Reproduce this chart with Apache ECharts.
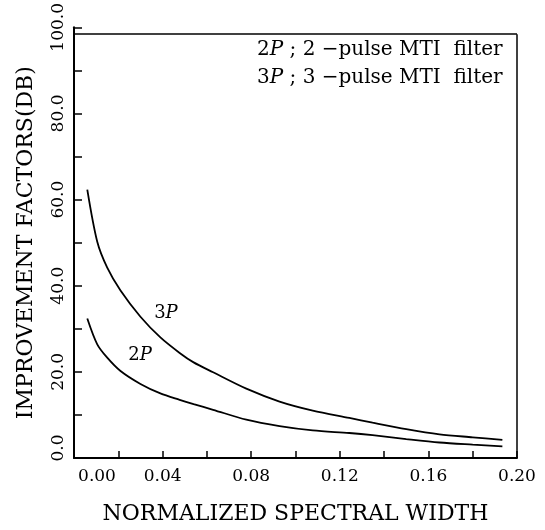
<!DOCTYPE html>
<html>
<head>
<meta charset="utf-8">
<script src="https://cdn.jsdelivr.net/npm/echarts@6/dist/echarts.min.js"></script>
<style>html,body{margin:0;padding:0;background:#fff}#c{width:545px;height:530px}</style>
</head>
<body>
<div id="c"></div>
<script>
// Normalized spectral width (x values)
const widths = [0.006, 0.0105, 0.015, 0.021, 0.030, 0.039, 0.0477, 0.054, 0.0628, 0.0778, 0.0928, 0.1078, 0.1243, 0.1348, 0.15, 0.165, 0.18, 0.1934];
// Improvement factors (dB)
const if3P = [62.3, 50.2, 44.2, 38.9, 32.8, 28.0, 24.4, 22.2, 19.9, 16.1, 13.1, 11.0, 9.3, 8.2, 6.7, 5.5, 4.8, 4.2];
const if2P = [32.4, 26.4, 23.3, 20.2, 17.2, 15.0, 13.5, 12.5, 11.2, 8.9, 7.4, 6.4, 5.8, 5.3, 4.4, 3.6, 3.1, 2.7];
// curve labels: [name, x, y]
const curveLabels = [['3P', 0.0415, 33.6], ['2P', 0.0298, 23.9]];
const legendLines = [['2', 'P', ' ; 2 \u2212pulse MTI  filter'], ['3', 'P', ' ; 3 \u2212pulse MTI  filter']];
const xName = 'NORMALIZED SPECTRAL WIDTH';
const yName = 'IMPROVEMENT FACTORS(DB)';
const frameTop = 98.4;

const FONT = 'DejaVu Serif';
const pair = (xs, ys) => xs.map((x, i) => [x, ys[i]]);

const chart = echarts.init(document.getElementById('c'));
const lineStyle = { color: '#000', width: 1.8 };
chart.setOption({
  animation: false,
  backgroundColor: '#fff',
  title: {
    left: 252, top: 31,
    text: legendLines.map(l => `{n|${l[0]}}{i|${l[1]}}{n|${l[2]}}`).join('\n'),
    textStyle: {
      fontWeight: 'normal',
      rich: {
        n: { fontFamily: FONT, fontSize: 20, fontWeight: 'normal', color: '#000', lineHeight: 28 },
        i: { fontFamily: FONT, fontSize: 20, fontWeight: 'normal', fontStyle: 'italic', color: '#000', lineHeight: 28 }
      }
    }
  },
  grid: { left: 74, right: 28, top: 17, bottom: 69, show: false },
  xAxis: {
    type: 'value', min: 0, max: 0.2, interval: 0.02,
    name: xName, nameLocation: 'middle', nameGap: 45,
    nameTextStyle: { fontFamily: FONT, fontSize: 22, color: '#000' },
    axisLine: { lineStyle: { color: '#000', width: 2 } },
    axisTick: { inside: true, length: 7, lineStyle: { color: '#000', width: 1.5 } },
    axisLabel: {
      margin: 10, color: '#000', fontFamily: FONT, fontSize: 17,
      showMinLabel: true, showMaxLabel: true,
      formatter: v => {
        const k = Math.round(v * 100);
        if (k % 4 !== 0) return '';
        if (k === 0) return '{z|0.00}';
        return (k / 100).toFixed(2);
      },
      rich: { z: { fontFamily: FONT, fontSize: 17, color: '#000', padding: [0, 0, 0, 46] } }
    },
    splitLine: { show: false }
  },
  yAxis: {
    type: 'value', min: 0, max: 100, interval: 10,
    name: yName, nameLocation: 'middle', nameGap: 37, nameRotate: 90,
    nameTextStyle: { fontFamily: FONT, fontSize: 22, color: '#000' },
    axisLine: { show: true, lineStyle: { color: '#000', width: 2 } },
    axisTick: { inside: true, length: 8, lineStyle: { color: '#000', width: 1.5 } },
    axisLabel: {
      rotate: 90, margin: 7, color: '#000', fontFamily: FONT, fontSize: 17,
      showMinLabel: true, showMaxLabel: true,
      formatter: v => {
        if (Math.round(v) % 20 !== 0) return '';
        if (v === 0) return '{z|0.0}';
        return v.toFixed(1);
      },
      rich: { z: { fontFamily: FONT, fontSize: 17, color: '#000', padding: [0, 0, 0, 20] } }
    },
    splitLine: { show: false }
  },
  series: [
    {
      name: '3P', type: 'line', data: pair(widths, if3P), showSymbol: false,
      smooth: 0.3, lineStyle, silent: true,
      markLine: {
        silent: true, symbol: 'none', label: { show: false },
        lineStyle: { color: '#000', width: 1.5, type: 'solid' },
        data: [
          [{ coord: [0, frameTop] }, { coord: [0.2, frameTop] }],
          [{ coord: [0.2, 0] }, { coord: [0.2, frameTop] }]
        ]
      },
      markPoint: {
        symbol: 'circle', symbolSize: 0, silent: true,
        label: {
          show: true, position: 'inside', color: '#000',
          rich: {
            n: { fontFamily: FONT, fontSize: 18, color: '#000' },
            i: { fontFamily: FONT, fontSize: 18, fontStyle: 'italic', color: '#000' }
          },
          formatter: p => `{n|${p.name[0]}}{i|${p.name[1]}}`
        },
        data: curveLabels.map(c => ({ name: c[0], coord: [c[1], c[2]] }))
      }
    },
    { name: '2P', type: 'line', data: pair(widths, if2P), showSymbol: false, smooth: 0.3, lineStyle, silent: true }
  ]
});
</script>
</body>
</html>
